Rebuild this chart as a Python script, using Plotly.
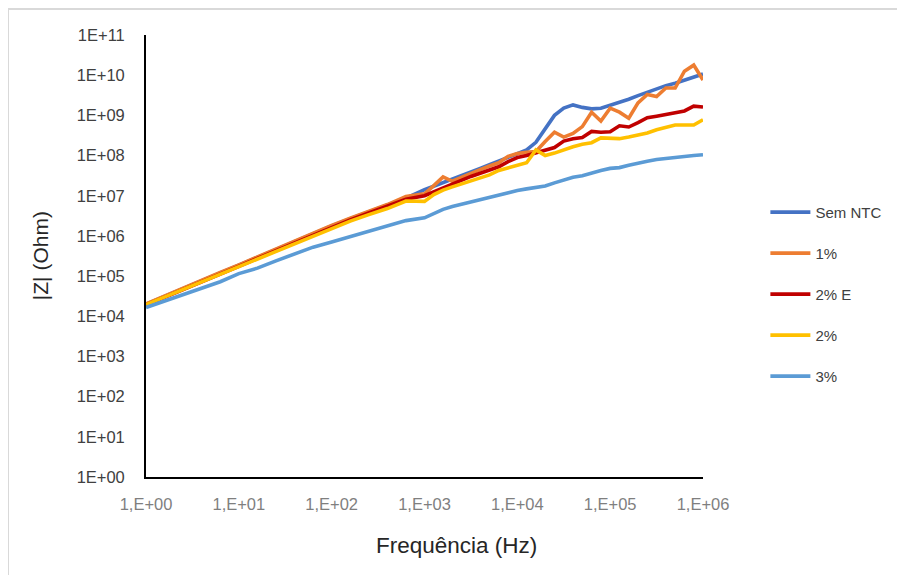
import plotly.graph_objects as go

# Frequency (Hz)
freq = [1, 1.585, 2.512, 3.981, 6.31, 10, 15.85, 25.12, 39.81, 63.1, 100, 158.5, 251.2, 398.1, 631,
        1000, 1259, 1585, 1995, 2512, 3162, 3981, 5012, 6310, 7943, 1e4, 12590, 15850, 19950, 25120,
        31620, 39810, 50120, 63100, 79430, 1e5, 125900, 158500, 199500, 251200, 316200, 398100,
        501200, 631000, 794300, 1e6]

series_names = ["Sem NTC", "1%", "2% E", "2%", "3%"]

sem_ntc = [2.0e4, 3.16e4, 5.01e4, 7.76e4, 1.2e5, 1.86e5, 2.95e5, 4.57e5, 7.24e5, 1.12e6, 1.78e6, 2.69e6,
           3.98e6, 5.89e6, 8.71e6, 1.41e7, 1.74e7, 2.14e7, 2.69e7, 3.31e7, 3.98e7, 4.79e7, 5.89e7, 7.24e7,
           8.91e7, 1.1e8, 1.38e8, 2.14e8, 4.47e8, 1.0e9, 1.51e9, 1.82e9, 1.58e9, 1.45e9, 1.51e9, 1.78e9,
           2.04e9, 2.51e9, 3.09e9, 3.8e9, 4.68e9, 5.5e9, 6.31e9, 7.41e9, 9.12e9, 1.07e10]

ntc_1 = [2.04e4, 3.24e4, 5.13e4, 7.94e4, 1.23e5, 1.91e5, 3.02e5, 4.68e5, 7.41e5, 1.15e6, 1.82e6, 2.75e6,
         4.07e6, 6.03e6, 9.55e6, 1.12e7, 1.78e7, 2.95e7, 2.29e7, 2.88e7, 3.72e7, 4.47e7, 5.5e7, 6.61e7,
         9.55e7, 1.12e8, 1.2e8, 1.26e8, 2.24e8, 3.8e8, 2.88e8, 3.55e8, 5.25e8, 1.2e9, 7.24e8, 1.51e9,
         1.2e9, 8.51e8, 2.04e9, 3.31e9, 2.95e9, 4.79e9, 4.79e9, 1.26e10, 1.78e10, 7.59e9]

ntc_2e = [1.91e4, 2.95e4, 4.68e4, 7.24e4, 1.12e5, 1.74e5, 2.75e5, 4.27e5, 6.76e5, 1.05e6, 1.66e6, 2.51e6,
          3.72e6, 5.5e6, 8.13e6, 1.0e7, 1.26e7, 1.58e7, 2.0e7, 2.51e7, 3.02e7, 3.63e7, 4.37e7, 5.25e7,
          7.08e7, 8.91e7, 1.0e8, 1.15e8, 1.32e8, 1.58e8, 2.29e8, 2.63e8, 2.82e8, 3.98e8, 3.8e8, 3.89e8,
          5.5e8, 5.13e8, 6.61e8, 8.71e8, 9.55e8, 1.07e9, 1.15e9, 1.29e9, 1.7e9, 1.62e9]

ntc_2 = [1.95e4, 3.02e4, 4.68e4, 7.24e4, 1.12e5, 1.7e5, 2.63e5, 3.98e5, 6.31e5, 9.77e5, 1.51e6, 2.34e6,
         3.39e6, 4.79e6, 7.41e6, 7.24e6, 1.07e7, 1.38e7, 1.66e7, 2.0e7, 2.4e7, 2.82e7, 3.31e7, 4.27e7,
         5.01e7, 5.75e7, 6.61e7, 1.38e8, 1.0e8, 1.15e8, 1.41e8, 1.66e8, 1.91e8, 2.09e8, 2.75e8, 2.63e8,
         2.63e8, 2.88e8, 3.24e8, 3.63e8, 4.37e8, 5.13e8, 5.75e8, 5.75e8, 5.75e8, 7.76e8]

ntc_3 = [1.66e4, 2.4e4, 3.55e4, 5.01e4, 7.24e4, 1.15e5, 1.58e5, 2.4e5, 3.63e5, 5.25e5, 7.08e5, 9.55e5,
         1.32e6, 1.78e6, 2.4e6, 2.82e6, 3.55e6, 4.57e6, 5.37e6, 6.17e6, 7.08e6, 8.13e6, 9.33e6, 1.05e7,
         1.2e7, 1.35e7, 1.48e7, 1.58e7, 1.74e7, 2.09e7, 2.51e7, 2.88e7, 3.16e7, 3.72e7, 4.27e7, 4.79e7,
         5.01e7, 5.75e7, 6.61e7, 7.24e7, 7.94e7, 8.51e7, 9.12e7, 9.55e7, 1.0e8, 1.05e8]

x_tickvals = [1, 10, 100, 1000, 1e4, 1e5, 1e6]
x_ticktext = ["1,E+00", "1,E+01", "1,E+02", "1,E+03", "1,E+04", "1,E+05", "1,E+06"]
y_tickvals = [1, 10, 100, 1e3, 1e4, 1e5, 1e6, 1e7, 1e8, 1e9, 1e10, 1e11]
y_ticktext = ["1E+00", "1E+01", "1E+02", "1E+03", "1E+04", "1E+05", "1E+06",
              "1E+07", "1E+08", "1E+09", "1E+10", "1E+11"]

colors = ["#4472C4", "#ED7D31", "#C00000", "#FFC000", "#5B9BD5"]
all_series = [sem_ntc, ntc_1, ntc_2e, ntc_2, ntc_3]

FONT = "Liberation Sans"

fig = go.Figure()
for name, vals, col in zip(series_names, all_series, colors):
    fig.add_trace(go.Scatter(
        x=freq, y=vals, name=name, mode="lines", legendgroup=name,
        line=dict(color=col, width=3.6),
    ))

fig.update_layout(
    width=897, height=567,
    margin=dict(l=138, r=202, t=27, b=98),
    paper_bgcolor="white", plot_bgcolor="white",
    font=dict(family=FONT, size=16, color="#404040"),
    showlegend=True,
    legend=dict(
        x=1.112, y=0.636, xanchor="left", yanchor="top",
        font=dict(family=FONT, size=15, color="#404040"),
        tracegroupgap=18.5, itemwidth=40,
        bgcolor="rgba(0,0,0,0)",
    ),
    xaxis=dict(
        type="log", range=[0, 6],
        tickvals=x_tickvals, ticktext=x_ticktext,
        tickfont=dict(family=FONT, size=16.5, color="#7f7f7f"),
        showgrid=False, zeroline=False,
        showline=True, linecolor="black", linewidth=1.8,
        ticks="", ticklabelstandoff=11,
    ),
    yaxis=dict(
        type="log", range=[0, 11],
        tickvals=y_tickvals, ticktext=y_ticktext,
        tickfont=dict(family=FONT, size=16.5, color="#404040"),
        showgrid=False, zeroline=False,
        showline=True, linecolor="black", linewidth=1.8,
        ticks="", ticklabelstandoff=16,
    ),
    shapes=[dict(type="rect", xref="paper", yref="paper",
                 x0=-0.2478, x1=1.40, y0=-0.30, y1=1.0588,
                 line=dict(color="#d9d9d9", width=2), fillcolor="rgba(0,0,0,0)", layer="below")],
    annotations=[
        dict(text="Frequência (Hz)", xref="paper", yref="paper", x=0.557, y=-0.155,
             xanchor="center", yanchor="middle", showarrow=False,
             font=dict(family=FONT, size=22.5, color="#262626")),
        dict(text="|Z| (Ohm)", xref="paper", yref="paper", x=-0.19, y=0.5,
             xanchor="center", yanchor="middle", showarrow=False, textangle=-90,
             font=dict(family=FONT, size=21, color="#262626")),
    ],
)

fig.write_html("out.html")
